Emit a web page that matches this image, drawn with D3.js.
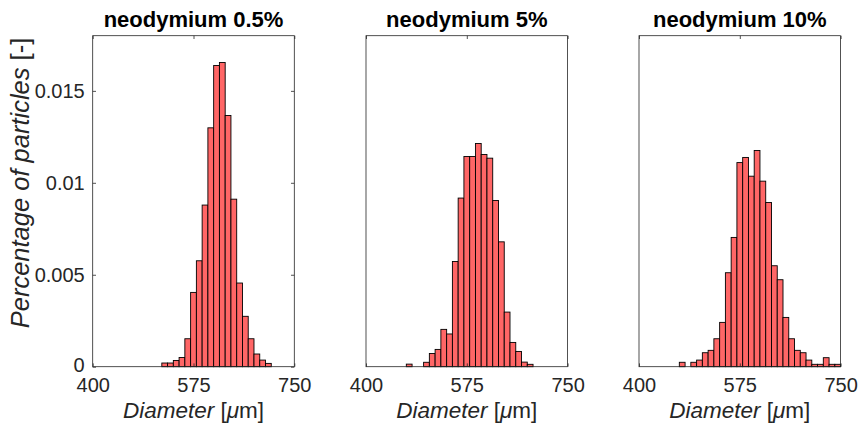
<!DOCTYPE html>
<html>
<head>
<meta charset="utf-8">
<script src="https://cdn.jsdelivr.net/npm/d3@7"></script>
<style>
  html, body { margin: 0; padding: 0; background: #fff; }
  svg { display: block; font-family: "Liberation Sans", Arial, Helvetica, sans-serif; }
</style>
</head>
<body>
<svg id="chart" width="858" height="432"></svg>
<script>
// Histogram bins: 10 µm wide, edges from 400 to 750 µm
const binWidth = 10;
const xDomain = [400, 750];
const xTicks = [400, 575, 750];
const yTicks = [0, 0.005, 0.01, 0.015];
const yTickLabels = ["0", "0.005", "0.01", "0.015"];
const titles = ["neodymium 0.5%", "neodymium 5%", "neodymium 10%"];

// Normalised bin heights (pdf) per sample, each list starts at the given bin edge
const start05 = 520;
const values05 = [0.0002, 0.0002, 0.00034, 0.0005, 0.00152, 0.00404, 0.00576, 0.00879,
  0.01299, 0.01638, 0.01654, 0.01366, 0.00911, 0.00455, 0.00274, 0.00152, 0.00069,
  0.00036, 0.00018];

const start5 = 470;
const values5 = [0.00014, 0, 0, 0.00024, 0.00072, 0.00094, 0.00203, 0.00178, 0.00572,
  0.00917, 0.01143, 0.01143, 0.01214, 0.01154, 0.01134, 0.00904, 0.00679, 0.00297,
  0.00132, 0.00083, 0.00025, 0.00013];

const start10 = 470;
const values10 = [0.00024, 0, 0.00024, 0.00036, 0.00076, 0.00089, 0.00152, 0.00241,
  0.00511, 0.00703, 0.0111, 0.01138, 0.01036, 0.01176, 0.01009, 0.00893, 0.00549,
  0.00473, 0.00268, 0.00152, 0.00089, 0.00076, 0.00036, 0.00013, 0.00013, 0.00049,
  0.00013, 0.00013];

const samples = [
  { title: titles[0], start: start05, values: values05 },
  { title: titles[1], start: start5, values: values5 },
  { title: titles[2], start: start10, values: values10 }
];

// Expand each sample to the full set of bins over the x domain (empty bins = 0)
function fullBins(s) {
  const n = Math.round((xDomain[1] - xDomain[0]) / binWidth);
  const out = [];
  for (let i = 0; i < n; i++) {
    const x0 = xDomain[0] + i * binWidth;
    const k = Math.round((x0 - s.start) / binWidth);
    const v = (k >= 0 && k < s.values.length) ? s.values[k] : 0;
    out.push({ x0: x0, x1: x0 + binWidth, v: v });
  }
  return out;
}

const svg = d3.select("#chart");
const axisColor = "#262626";
const panelLefts = [92.7, 366, 639];
const panelWidth = 201.6;
const plotTop = 35.7, plotBottom = 366.7;
const tickLen = 3.3;

const y = d3.scaleLinear().domain([0, 0.018]).range([plotBottom, plotTop]);

samples.forEach((s, i) => {
  const left = panelLefts[i];
  const x = d3.scaleLinear().domain(xDomain).range([left, left + panelWidth]);
  const g = svg.append("g");

  // bars
  g.selectAll("rect.bar")
    .data(fullBins(s))
    .join("rect")
    .attr("class", "bar")
    .attr("x", d => x(d.x0))
    .attr("y", d => y(d.v))
    .attr("width", d => x(d.x1) - x(d.x0))
    .attr("height", d => y(0) - y(d.v))
    .attr("fill", "#ff6666")
    .attr("stroke", "#000")
    .attr("stroke-width", 0.9);

  // bottom axis with labels, inward ticks
  const xAxis = d3.axisBottom(x).tickValues(xTicks).tickFormat(d3.format("d"))
    .tickSizeInner(-tickLen).tickSizeOuter(0).tickPadding(11);
  const gx = g.append("g").attr("transform", `translate(0,${plotBottom})`).call(xAxis);
  gx.select(".domain").remove();
  gx.selectAll(".tick line").attr("stroke", axisColor).attr("stroke-width", 0.8);
  gx.selectAll(".tick text").attr("fill", axisColor).style("font-size", "20px")
    .style("font-family", "'Liberation Sans', Arial, sans-serif");

  // top axis ticks (mirrored box ticks)
  const xTop = d3.axisTop(x).tickValues(xTicks).tickFormat("")
    .tickSizeInner(-tickLen).tickSizeOuter(0);
  const gxt = g.append("g").attr("transform", `translate(0,${plotTop})`).call(xTop);
  gxt.select(".domain").remove();
  gxt.selectAll(".tick line").attr("stroke", axisColor).attr("stroke-width", 0.8);

  if (i === 0) {
    const yAxis = d3.axisLeft(y).tickValues(yTicks).tickFormat((d, k) => yTickLabels[k])
      .tickSizeInner(-tickLen).tickSizeOuter(0).tickPadding(8);
    const gy = g.append("g").attr("transform", `translate(${left},0)`).call(yAxis);
    gy.select(".domain").remove();
    gy.selectAll(".tick line").attr("stroke", axisColor).attr("stroke-width", 0.8);
    gy.selectAll(".tick text").attr("fill", axisColor).style("font-size", "20px")
      .style("font-family", "'Liberation Sans', Arial, sans-serif");
    // the zero label sits just above the x tick labels
    gy.selectAll(".tick text").filter(d => d === 0).attr("dy", "0.22em");

    const yRight = d3.axisRight(y).tickValues(yTicks).tickFormat("")
      .tickSizeInner(-tickLen).tickSizeOuter(0);
    const gyr = g.append("g").attr("transform", `translate(${left + panelWidth},0)`).call(yRight);
    gyr.select(".domain").remove();
    gyr.selectAll(".tick line").attr("stroke", axisColor).attr("stroke-width", 0.8);
  }

  // axes box
  g.append("rect")
    .attr("x", left).attr("y", plotTop)
    .attr("width", panelWidth).attr("height", plotBottom - plotTop)
    .attr("fill", "none").attr("stroke", axisColor).attr("stroke-width", 0.8);

  // title
  g.append("text")
    .attr("x", left + panelWidth / 2).attr("y", 27)
    .attr("text-anchor", "middle")
    .attr("fill", "#000")
    .style("font-size", "22px").style("font-weight", "bold")
    .text(s.title);

  // x label: Diameter [µm]
  const xl = g.append("text")
    .attr("x", left + panelWidth / 2).attr("y", 418)
    .attr("text-anchor", "middle")
    .attr("fill", axisColor)
    .style("font-size", "22.5px");
  xl.append("tspan").style("font-style", "italic").text("Diameter");
  xl.append("tspan").text(" [");
  xl.append("tspan").style("font-style", "italic").text("\u03bc");
  xl.append("tspan").text("m]");
});

// shared y label
const yl = svg.append("text")
  .attr("transform", "translate(29,183) rotate(-90)")
  .attr("text-anchor", "middle")
  .attr("fill", axisColor)
  .style("font-size", "25.5px");
yl.append("tspan").style("font-style", "italic").text("Percentage of particles");
yl.append("tspan").text(" [-]");
</script>
</body>
</html>
